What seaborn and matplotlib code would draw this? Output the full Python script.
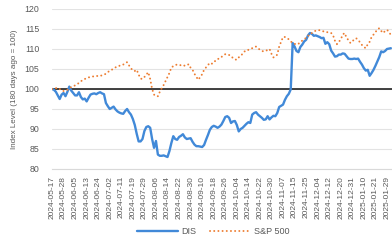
import pandas as pd
import seaborn as sns
from matplotlib import pyplot as plt

# trading-day calendar (US market holidays removed)
holidays = ['2024-05-27', '2024-06-19', '2024-07-04', '2024-09-02', '2024-11-28',
            '2024-12-25', '2025-01-01', '2025-01-09', '2025-01-20']

dis = [100.0, 99.8, 99.3, 98.4, 97.5, 98.6, 99.0, 98.2, 99.3, 100.6,
       99.6, 99.0, 98.4, 98.4, 99.2, 98.0, 97.4, 97.6, 96.9, 97.8,
       98.6, 98.8, 98.9, 98.7, 99.0, 99.2, 98.9, 98.7, 96.5, 95.7,
       95.0, 95.3, 95.6, 94.9, 94.4, 94.1, 93.9, 93.8, 94.5, 95.0,
       94.2, 93.6, 92.5, 91.0, 88.8, 86.9, 86.9, 87.5, 89.5, 90.5,
       90.7, 90.3, 87.5, 85.3, 87.0, 83.6, 83.3, 83.3, 83.4, 83.2,
       83.0, 84.5, 86.5, 88.2, 87.5, 87.3, 88.0, 88.3, 88.7, 87.9,
       87.5, 87.6, 87.7, 86.8, 86.1, 85.7, 85.7, 85.6, 85.5, 86.0,
       87.3, 88.5, 89.8, 90.5, 90.8, 90.6, 90.3, 90.6, 91.1, 92.0,
       93.0, 93.2, 92.8, 91.5, 91.9, 92.0, 91.0, 89.4, 90.0, 90.3,
       90.8, 91.3, 91.7, 91.5, 93.6, 94.0, 94.2, 93.6, 93.2, 92.8,
       92.3, 92.4, 93.2, 92.4, 92.9, 93.3, 93.2, 94.0, 95.5, 95.8,
       96.1, 97.3, 98.2, 98.8, 99.9, 111.5, 110.6, 109.5, 109.2, 110.5,
       111.1, 111.9, 112.3, 113.4, 114.0, 113.8, 113.3, 113.4, 113.2, 113.0,
       112.7, 112.8, 111.3, 111.7, 111.2, 109.6, 108.9, 108.1, 108.2, 108.6,
       108.6, 108.9, 108.8, 108.2, 107.6, 107.5, 107.5, 107.6, 107.5, 107.6,
       106.8, 106.1, 105.2, 104.6, 104.8, 103.3, 104.0, 104.8, 105.8, 106.9,
       108.0, 109.4, 109.2, 109.5, 110.0, 110.1, 110.2]

spx = [100.0, 100.1, 100.2, 100.3, 100.0, 99.6, 99.5, 99.7, 99.8, 100.1,
       100.5, 100.7, 100.9, 101.2, 101.5, 101.9, 102.3, 102.5, 102.7, 102.9,
       103.0, 103.1, 103.2, 103.3, 103.2, 103.3, 103.4, 103.6, 103.8, 104.2,
       104.6, 104.8, 105.1, 105.4, 105.7, 105.8, 106.0, 106.1, 106.5, 106.7,
       105.9, 105.2, 104.6, 104.5, 104.8, 103.6, 102.6, 102.5, 103.0, 103.6,
       104.2, 102.5, 100.0, 98.6, 98.2, 98.2, 99.3, 100.2, 101.0, 102.0,
       103.0, 104.0, 105.4, 105.7, 106.0, 106.1, 106.1, 105.9, 106.0, 105.8,
       105.9, 106.2, 105.3, 104.8, 103.8, 103.0, 102.3, 103.0, 103.7, 104.8,
       105.4, 106.0, 106.5, 106.3, 106.9, 107.0, 107.5, 107.6, 108.0, 108.4,
       108.7, 108.7, 108.5, 108.3, 107.7, 107.4, 107.3, 107.9, 108.3, 108.8,
       109.4, 109.4, 109.8, 110.0, 110.2, 110.5, 110.6, 110.2, 109.8, 109.5,
       109.4, 109.5, 109.8, 110.0, 108.8, 107.9, 108.1, 108.6, 110.6, 111.8,
       113.0, 113.0, 112.8, 112.4, 111.9, 111.5, 111.3, 111.1, 111.3, 111.7,
       112.1, 112.4, 112.8, 113.3, 113.5, 114.0, 114.3, 114.6, 114.7, 114.7,
       114.6, 114.4, 114.4, 114.2, 114.1, 114.0, 113.4, 112.0, 111.2, 111.8,
       112.4, 113.6, 114.0, 112.8, 112.2, 111.5, 112.0, 112.3, 112.7, 112.2,
       111.7, 111.0, 110.5, 110.2, 111.2, 111.8, 113.0, 113.6, 114.2, 114.9,
       115.2, 114.5, 114.0, 114.5, 114.8, 114.3, 113.5]

dates = pd.bdate_range('2024-05-17', periods=len(dis) + 20, freq='C', holidays=holidays)[:len(dis)]
labels = [d.strftime('%Y-%m-%d') for d in dates]

df = pd.DataFrame({'idx': range(len(dis)), 'DIS': dis, 'S&P 500': spx})

sns.set_style('white')
plt.rcParams['font.family'] = ['Liberation Sans', 'DejaVu Sans']

fig = plt.figure(figsize=(3.92, 2.40), dpi=100)
ax = fig.add_axes([52 / 392, 1 - 169 / 240, 1 - 52 / 392, 160 / 240])

sns.lineplot(data=df, x='idx', y='DIS', ax=ax, color='#4189d8', linewidth=1.7,
             label='DIS', zorder=3)
sns.lineplot(data=df, x='idx', y='S&P 500', ax=ax, color='#ed7d31', linewidth=1.4,
             linestyle=(0, (0.05, 2.1)), dash_capstyle='round', label='S&P 500', zorder=3)

ax.axhline(100, color='#222222', linewidth=1.2, zorder=2)

ax.set_ylim(80, 120)
ax.set_yticks(range(80, 121, 5))
ax.set_xlim(0, len(dis) - 0.4)
ax.set_xticks(range(0, len(dis), 6))
ax.set_xticklabels(labels[::6], rotation=90)
ax.grid(axis='y', color='#e3e3e3', linewidth=0.8)
ax.grid(axis='x', visible=False)
ax.tick_params(axis='both', length=0, labelsize=6, colors='#595959')
ax.tick_params(axis='y', labelsize=6.3, pad=9)
ax.tick_params(axis='x', pad=5)
for s in ['top', 'right', 'left']:
    ax.spines[s].set_visible(False)
ax.spines['bottom'].set_color('#d9d9d9')
ax.spines['bottom'].set_linewidth(0.8)

ax.set_xlabel('')
ax.set_ylabel('Index Level (180 days ago = 100)', fontsize=5.8, color='#595959', labelpad=5)

ax.legend_.remove()
handles, lbls = ax.get_legend_handles_labels()
fig.legend(handles, lbls, loc='center', bbox_to_anchor=(0.545, 0.035), ncol=2,
           frameon=False, fontsize=6.5, labelcolor='#595959', handlelength=4.5,
           columnspacing=1.5, handletextpad=0.4)

fig.savefig('out.png', dpi=100)
